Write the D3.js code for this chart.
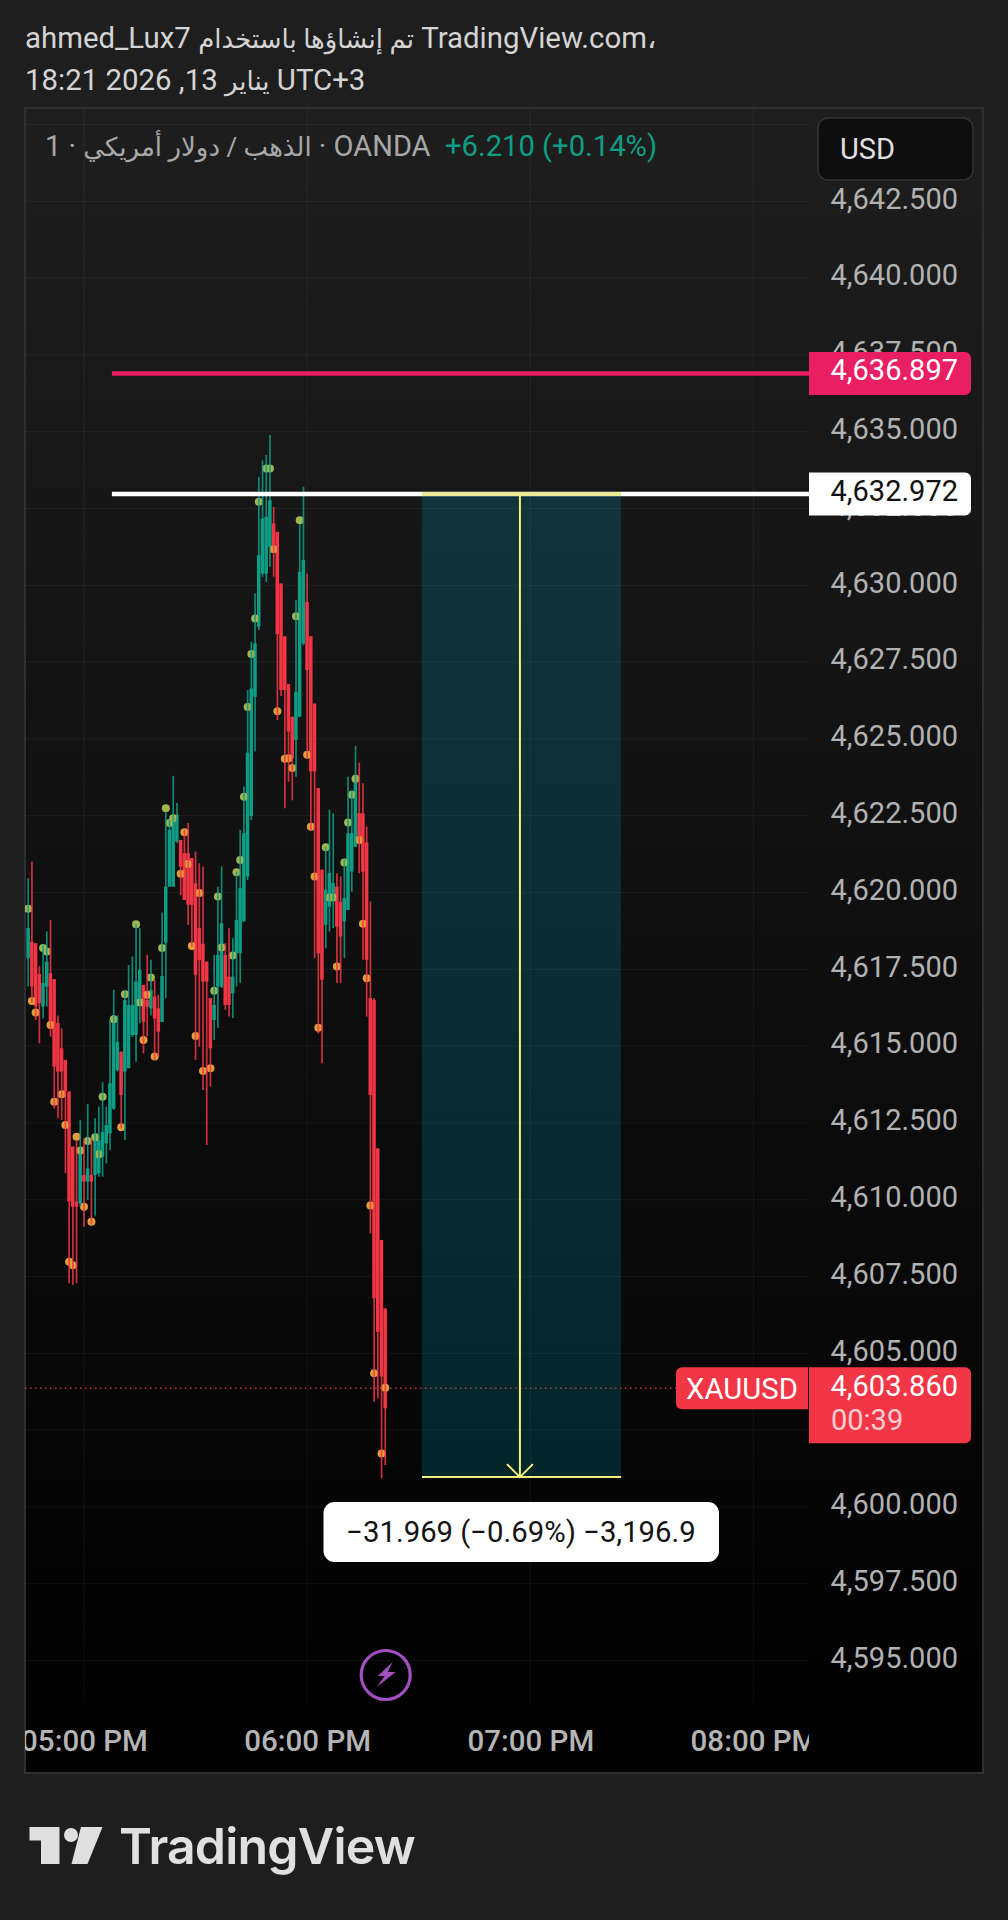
<!DOCTYPE html>
<html><head><meta charset="utf-8">
<script src="https://cdn.jsdelivr.net/npm/d3@7/dist/d3.min.js"></script>
<style>html,body{margin:0;padding:0;background:#1e1e1e}svg{display:block}text{font-family:Roboto,"DejaVu Sans",sans-serif}</style>
</head><body><div id="c"></div>
<script>
const headerLine1 = ["ahmed_Lux7 ", "تم إنشاؤها باستخدام", " TradingView.com،"];
const headerLine2 = ["18:21 2026 ,13 ", "يناير", " UTC+3"];
const legendTitle = ["1 · ", "الذهب / دولار أمريكي", " · OANDA"];
const legendChange = "+6.210 (+0.14%)";
const currency = "USD";
const firstMinute = -15; // minutes after 05:00 PM of the first candle
const open = [4617.86,4618.40,4618.35,4617.35,4616.29,4616.94,4617.37,4617.18,4615.76,4614.93,4614.55,4613.52,4611.73,4609.94,4609.88,4610.80,4610.59,4610.80,4610.80,4610.86,4611.40,4611.83,4612.16,4612.97,4614.22,4614.82,4614.17,4614.28,4615.36,4615.36,4616.34,4616.99,4616.50,4616.23,4616.61,4616.23,4615.79,4618.37,4620.19,4620.19,4621.66,4621.71,4621.28,4621.28,4621.12,4620.30,4618.84,4618.33,4617.75,4616.56,4615.85,4616.94,4616.94,4617.97,4617.26,4616.72,4618.02,4618.02,4619.06,4620.52,4622.49,4626.37,4628.65,4630.38,4630.38,4631.25,4632.01,4631.74,4630.06,4628.34,4626.78,4625.72,4624.97,4625.72,4628.11,4629.46,4628.34,4626.15,4623.40,4620.74,4618.95,4619.54,4619.87,4620.19,4619.70,4619.06,4619.43,4620.68,4621.49,4622.58,4622.58,4621.63,4616.56,4616.50,4611.67,4608.69,4606.46];
const high = [4620.46,4621.00,4618.35,4617.60,4618.30,4618.73,4619.11,4617.18,4616.00,4615.58,4614.55,4613.52,4611.73,4611.94,4612.59,4612.00,4613.11,4612.00,4612.65,4613.03,4613.82,4613.03,4615.85,4616.83,4616.00,4614.82,4616.83,4617.64,4617.92,4618.98,4618.84,4616.99,4617.97,4617.81,4617.16,4616.67,4619.35,4622.64,4622.37,4623.80,4622.91,4621.71,4622.04,4622.26,4621.12,4621.33,4620.95,4620.85,4617.75,4616.56,4617.97,4620.19,4620.85,4618.35,4618.84,4618.51,4620.68,4622.04,4623.45,4626.59,4628.16,4629.73,4633.53,4634.07,4634.24,4634.89,4632.55,4631.74,4630.06,4628.34,4626.78,4625.72,4629.52,4632.00,4633.21,4630.38,4628.34,4626.15,4623.40,4620.74,4621.49,4622.69,4622.58,4620.63,4620.52,4621.12,4623.77,4623.34,4624.77,4624.23,4623.56,4622.15,4619.71,4616.56,4611.67,4608.69,4606.46];
const low = [4616.94,4616.40,4615.85,4615.09,4615.90,4616.29,4615.31,4612.97,4612.65,4612.59,4610.86,4607.28,4607.22,4607.28,4609.77,4609.12,4609.99,4609.20,4609.48,4610.75,4610.75,4611.18,4611.62,4612.92,4614.17,4612.32,4611.94,4614.28,4615.30,4614.49,4615.74,4614.76,4615.31,4616.00,4614.55,4614.66,4615.79,4616.56,4620.19,4620.19,4621.60,4619.92,4619.76,4618.95,4618.24,4614.55,4614.98,4613.57,4611.78,4613.68,4615.20,4615.60,4616.89,4616.18,4615.96,4615.91,4616.94,4617.05,4619.06,4620.40,4622.36,4624.59,4628.54,4630.28,4630.11,4630.60,4630.28,4625.61,4626.40,4622.74,4623.61,4623.00,4623.77,4625.72,4628.05,4624.37,4622.00,4617.86,4615.41,4614.44,4618.18,4618.73,4618.84,4617.05,4617.05,4617.86,4619.43,4620.03,4621.49,4620.63,4617.81,4615.96,4608.90,4603.43,4603.53,4600.93,4601.36];
const close = [4618.84,4616.94,4616.29,4616.39,4617.05,4617.75,4615.74,4614.33,4614.17,4614.17,4613.52,4609.94,4609.77,4609.77,4611.62,4610.59,4611.02,4610.59,4612.00,4611.94,4612.21,4612.43,4613.79,4616.01,4615.14,4613.41,4616.50,4616.34,4616.34,4617.10,4617.48,4615.79,4616.28,4616.83,4615.90,4615.47,4617.28,4620.19,4622.04,4622.53,4622.53,4620.84,4619.76,4619.60,4619.60,4617.32,4617.81,4617.10,4617.10,4614.93,4616.34,4617.97,4619.00,4616.34,4616.34,4617.26,4619.11,4620.14,4621.93,4624.55,4626.64,4628.11,4630.98,4632.17,4632.23,4632.77,4631.14,4628.41,4626.59,4626.59,4625.24,4624.37,4626.53,4630.44,4630.82,4627.24,4623.94,4623.94,4618.02,4617.16,4620.09,4620.63,4620.30,4618.89,4618.57,4619.82,4621.93,4621.93,4623.77,4621.71,4620.68,4617.81,4613.41,4606.79,4605.70,4604.24,4603.21];
const marker = [4619.47,4616.47,4616.09,null,4618.19,4618.08,4615.69,4613.19,null,4613.43,4612.43,4607.98,4607.87,4612.05,4611.60,4609.77,4611.91,4609.28,4612.03,4611.48,4613.35,null,null,4615.87,null,4612.36,4616.69,null,null,4618.97,4616.42,4615.20,4616.67,4617.23,4614.66,null,4618.19,4622.74,4622.26,4622.42,null,4620.61,4621.96,4620.93,4618.26,4615.33,4619.98,4614.19,null,4614.28,4616.80,4619.87,4618.21,null,null,4617.95,4620.66,4621.06,4623.12,4626.04,4627.76,4628.92,4632.72,null,4633.80,4633.80,4631.17,4625.90,null,4624.35,4624.37,4624.05,4628.99,4632.12,null,4624.48,4622.14,4620.52,4615.60,null,4621.47,4619.84,4619.84,4617.59,null,4620.98,4622.28,4623.18,4623.70,4621.71,4618.98,4617.21,4609.81,4604.35,null,4601.74,4603.88];
const priceTicks = [4642.5,4640,4637.5,4635,4632.5,4630,4627.5,4625,4622.5,4620,4617.5,4615,4612.5,4610,4607.5,4605,4602.5,4600,4597.5,4595];
const gridPrices = [4645,4642.5,4640,4637.5,4635,4632.5,4630,4627.5,4625,4622.5,4620,4617.5,4615,4612.5,4610,4607.5,4605,4602.5,4600,4597.5,4595];
const timeTicks = [0,60,120,180];
const timeLabels = ["05:00 PM","06:00 PM","07:00 PM","08:00 PM"];
const targetPrice = 4636.897, entryPrice = 4632.972, lastPrice = 4603.860;
const measureEnd = 4600.97;
const measureFrom = 90.85, measureMid = 117.2, measureTo = 144.4;   // minutes after 05:00 PM
const linesFrom = 7.5;
const measureLabel = "−31.969 (−0.69%) −3,196.9";
const symbol = "XAUUSD", countdown = "00:39";

const W=1008,H=1920;
const svg=d3.select("#c").append("svg").attr("width",W).attr("height",H);
const defs=svg.append("defs");
const g=defs.append("linearGradient").attr("id","bg").attr("x1",0).attr("x2",0).attr("y1",0).attr("y2",1);
g.append("stop").attr("offset",0).attr("stop-color","#1e1e1e");
g.append("stop").attr("offset",1).attr("stop-color","#000");
defs.append("clipPath").attr("id","plot").append("rect").attr("x",25).attr("y",108).attr("width",784).attr("height",1665);
svg.append("rect").attr("width",W).attr("height",H).attr("fill","#1e1e1e");
svg.append("rect").attr("x",25).attr("y",108).attr("width",958).attr("height",1665).attr("fill","url(#bg)").attr("stroke","#2f2f2f").attr("stroke-width",2);

const x=d3.scaleLinear().domain([0,180]).range([84,753.5]);
const y=d3.scaleLinear().domain([4645,4595]).range([124.5,1660.5]);
const bw=x(1)-x(0);
const fmt=d3.format(",.3f");

// grid
const grid=svg.append("g").attr("stroke","#fff").attr("stroke-opacity",0.045).attr("stroke-width",1.2);
grid.selectAll(".h").data(gridPrices).join("line").attr("x1",25).attr("x2",808).attr("y1",d=>y(d)).attr("y2",d=>y(d));
grid.selectAll(".v").data(timeTicks).join("line").attr("x1",d=>x(d)).attr("x2",d=>x(d)).attr("y1",108).attr("y2",1703);

// axes
const yAxis=d3.axisRight(y).tickValues(priceTicks).tickSize(0).tickPadding(0).tickFormat(fmt);
const ya=svg.append("g").attr("transform","translate(958,0)").call(yAxis);
ya.select(".domain").remove();
ya.selectAll("text").attr("text-anchor","end").attr("x",0).attr("y",-3.3).attr("dy","0.35em").attr("fill","#b2b2b2").style("font-size","29px").style("font-family","Roboto");

const xAxis=d3.axisBottom(x).tickValues(timeTicks).tickSize(0).tickPadding(0).tickFormat((d,i)=>timeLabels[i]);
const xa=svg.append("g").attr("clip-path","url(#plot)").append("g").attr("transform","translate(0,1741)").call(xAxis);
xa.select(".domain").remove();
xa.selectAll("text").attr("y",0).attr("dy","0.35em").attr("fill","#b5b5b5").style("font-size","29.5px").style("font-weight","500").style("font-family","Roboto");

// current price dotted
svg.append("line").attr("x1",25).attr("x2",676).attr("y1",y(lastPrice)).attr("y2",y(lastPrice)).attr("stroke","#f23645").attr("stroke-opacity",0.8).attr("stroke-width",1.5).attr("stroke-dasharray","1.5 3.5");

// candles
const candles=open.map((o,i)=>({o,h:high[i],l:low[i],c:close[i],d:marker[i],t:firstMinute+i}));
const col=d=>d.c>=d.o?"#0f9d85":"#f23645";
const cg=svg.append("g").attr("clip-path","url(#plot)");
cg.selectAll(".b").data(candles).join("rect").attr("x",d=>x(d.t)-bw/2).attr("width",bw-0.2)
  .attr("y",d=>y(Math.max(d.o,d.c))).attr("height",d=>Math.max(1,Math.abs(y(d.o)-y(d.c)))).attr("fill",col);
cg.selectAll(".d").data(candles.filter(d=>d.d!=null)).join("circle").attr("cx",d=>x(d.t)).attr("cy",d=>y(d.d)).attr("r",4)
  .attr("fill",d=>d.c>=d.o?"#a3b550":"#dfa03a");
cg.selectAll(".w").data(candles).join("line").attr("x1",d=>x(d.t)).attr("x2",d=>x(d.t)).attr("y1",d=>y(d.h)).attr("y2",d=>y(d.l))
  .attr("stroke",col).attr("stroke-width",1.7).attr("stroke-opacity",0.85);

// target / entry lines and labels
const labelX=809,labelW=162;
function hline(p,color,txtColor){
  const yy=y(p);
  svg.append("line").attr("x1",x(linesFrom)).attr("x2",labelX).attr("y1",yy).attr("y2",yy).attr("stroke",color).attr("stroke-width",4.5);
  svg.append("path").attr("d",`M${labelX},${yy-21.5}H${labelX+labelW-6}a6,6 0 0 1 6,6V${yy+15.5}a6,6 0 0 1 -6,6H${labelX}Z`).attr("fill",color);
  svg.append("text").attr("x",958).attr("y",yy-3.3).attr("dy","0.35em").attr("text-anchor","end").attr("fill",txtColor).style("font-size","29px").text(fmt(p));
}
hline(targetPrice,"#e91e63","#fff");
hline(entryPrice,"#ffffff","#111");

// measure box (drawn above the entry line)
const bx0=x(measureFrom),bx1=x(measureTo),bmid=x(measureMid),yEnd=y(measureEnd),yTop=y(entryPrice);
svg.append("rect").attr("x",bx0).attr("y",yTop).attr("width",bx1-bx0).attr("height",yEnd-yTop).attr("fill","#00b4c8").attr("fill-opacity",0.19);
const yl=svg.append("g").attr("stroke","#f4f07c").attr("stroke-width",2).attr("fill","none");
yl.append("line").attr("x1",bx0).attr("x2",bx1).attr("y1",yTop).attr("y2",yTop).attr("stroke","#ecea94").attr("stroke-width",4);
yl.append("line").attr("x1",bx0).attr("x2",bx1).attr("y1",yEnd).attr("y2",yEnd);
yl.append("line").attr("x1",bmid).attr("x2",bmid).attr("y1",yTop).attr("y2",yEnd);
yl.append("path").attr("d",`M${bmid-13},${yEnd-13}L${bmid},${yEnd}L${bmid+13},${yEnd-13}`);

// last price labels
const ly=y(lastPrice);
svg.append("path").attr("d",`M808,${ly-21}H682a6,6 0 0 0 -6,6V${ly+15}a6,6 0 0 0 6,6H808Z`).attr("fill","#f23645");
svg.append("text").attr("x",742).attr("y",ly).attr("dy","0.35em").attr("text-anchor","middle").attr("fill","#fff").style("font-size","29.3px").text(symbol);
svg.append("path").attr("d",`M809,${ly-21}H965a6,6 0 0 1 6,6V${ly+49}a6,6 0 0 1 -6,6H809Z`).attr("fill","#f23645");
svg.append("text").attr("x",958).attr("y",ly-2.7).attr("dy","0.35em").attr("text-anchor","end").attr("fill","#fff").style("font-size","29px").text(fmt(lastPrice));
svg.append("text").attr("x",831).attr("y",ly+32).attr("dy","0.35em").attr("fill","#fff").attr("fill-opacity",0.75).style("font-size","29px").text(countdown);

// measure label
svg.append("rect").attr("x",323.5).attr("y",1502).attr("width",395.5).attr("height",60).attr("rx",11).attr("fill","#fff");
svg.append("text").attr("x",521).attr("y",1532).attr("dy","0.35em").attr("text-anchor","middle").attr("fill","#131313").style("font-size","29.3px").text(measureLabel);

// mixed Latin / Arabic text lines: Arabic run is set a little smaller
function mixed(xp,yp,parts,fill,latin,arabic){
  const t=svg.append("text").attr("x",xp).attr("y",yp).attr("dy","0.35em").attr("fill",fill).attr("direction","ltr").style("white-space","pre").style("font-size",latin+"px");
  parts.forEach((p,i)=>t.append("tspan").style("font-size",(i===1?arabic:latin)+"px").text(p));
}
mixed(45,146,legendTitle,"#a8a8a8",29,26);
svg.append("text").attr("x",445).attr("y",146).attr("dy","0.35em").attr("fill","#0f9d85").style("font-size","29.2px").text(legendChange);
svg.append("rect").attr("x",818).attr("y",118).attr("width",155).attr("height",62).attr("rx",10).attr("fill","#0e0e0e").attr("stroke","#333").attr("stroke-width",1.5);
svg.append("text").attr("x",840).attr("y",149).attr("dy","0.35em").attr("fill","#e0e0e0").style("font-size","29px").text(currency);

// header
mixed(25,38,headerLine1,"#d4d4d4",29.4,26);
mixed(25,80,headerLine2,"#d4d4d4",29.4,26);

// lightning badge
const lb=svg.append("g").attr("transform","translate(385.7,1675)");
lb.append("circle").attr("r",24.5).attr("fill","none").attr("stroke","#a24fc0").attr("stroke-width",3.2);
lb.append("path").attr("d","M7,-13L-8,1H-1L-9,12L10,-3H2Z").attr("fill","#a24fc0");

// logo
const lg=svg.append("g").attr("fill","#e0e0e0");
lg.append("path").attr("d","M29.5,1827H59.5V1864H41V1840.5H29.5Z");
lg.append("circle").attr("cx",71).attr("cy",1835).attr("r",7);
lg.append("path").attr("d","M81,1827H102.5L87.5,1864H71.5Z");
lg.append("text").attr("x",119).attr("y",1864).attr("fill","#e0e0e0").style("font-family","Inter").style("font-weight","600").style("font-size","50px").style("letter-spacing","-0.8px").text("TradingView");
</script></body></html>
